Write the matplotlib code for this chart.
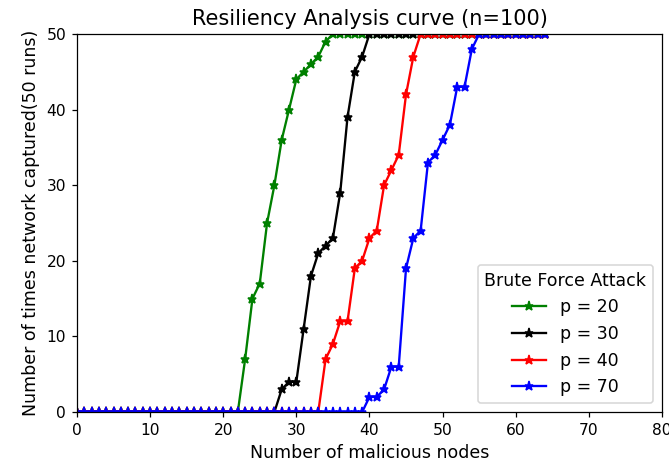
import matplotlib
matplotlib.use('Agg')
import matplotlib.pyplot as plt
import numpy as np

# number of malicious nodes
x = np.arange(0, 65)

# times network captured (out of 50 runs), for each p
p20_rise = [0, 7, 15, 17, 25, 30, 36, 40, 44, 45, 46, 47, 49]      # x = 22..34
p30_rise = [0, 3, 4, 4, 11, 18, 21, 22, 23, 29, 39, 45, 47]         # x = 27..39
p40_rise = [0, 7, 9, 12, 12, 19, 20, 23, 24, 30, 32, 34, 42, 47]    # x = 33..46
p70_rise = [0, 2, 2, 3, 6, 6, 19, 23, 24, 33, 34, 36, 38, 43, 43, 48]  # x = 39..54

p20 = [0] * 22 + p20_rise + [50] * (65 - 22 - len(p20_rise))
p30 = [0] * 27 + p30_rise + [50] * (65 - 27 - len(p30_rise))
p40 = [0] * 33 + p40_rise + [50] * (65 - 33 - len(p40_rise))
p70 = [0] * 39 + p70_rise + [50] * (65 - 39 - len(p70_rise))

dpi = 111.5
fig = plt.figure(figsize=(669 / dpi, 472 / dpi), dpi=dpi)
ax = fig.add_subplot(111)
plt.subplots_adjust(left=0.115, right=0.9895, top=0.928, bottom=0.127)

plt.plot(x, p20, 'g-*', label='p = 20')
plt.plot(x, p30, 'k-*', label='p = 30')
plt.plot(x, p40, 'r-*', label='p = 40')
plt.plot(x, p70, 'b-*', label='p = 70')

plt.xlim(0, 80)
plt.ylim(0, 50)
plt.title('Resiliency Analysis curve (n=100)', fontsize=13.5)
plt.xlabel('Number of malicious nodes', fontsize=11.2)
plt.ylabel('Number of times network captured(50 runs)', fontsize=11.2)
plt.legend(title='Brute Force Attack', loc='lower right', fontsize=11.2, title_fontsize=11.2)

plt.savefig('out.png', dpi=dpi)
